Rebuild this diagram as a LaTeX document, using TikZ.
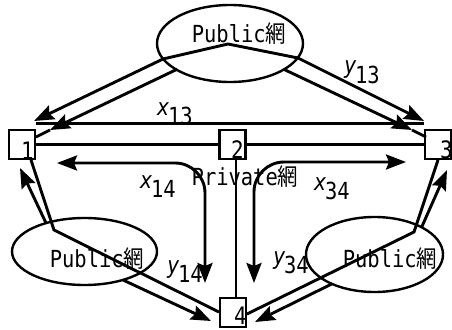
\documentclass[tikz,border=0pt]{standalone}
\usepackage{fontspec}
\setmainfont{DejaVu Sans Mono}[FakeStretch=0.87]
\newfontfamily\cjk{Noto Sans CJK JP}[FakeStretch=0.87]
\usetikzlibrary{arrows.meta,shapes.geometric}
\newcommand\mou{{\cjk 網}}
\newcommand\sublab[2]{{\itshape #1}\kern-1.5pt\raisebox{-9.5pt}{#2}}
\begin{document}
\begin{tikzpicture}[x=1pt,y=-1pt,
  box/.style={draw, line width=2.5pt, minimum width=26pt, minimum height=29pt, inner sep=0pt},
  num/.style={inner sep=0pt, font=\fontsize{24}{26}\selectfont},
  txt/.style={inner sep=0pt, font=\fontsize{23.5}{26}\selectfont},
  net/.style={draw, ellipse, line width=2.4pt, inner sep=0pt},
  pipe/.style={line width=2.6pt},
  flow/.style={line width=2.9pt},
  tipend/.style={-{Stealth[length=20pt,width=15pt,inset=3pt]}},
  twoends/.style={{Stealth[length=20pt,width=15pt,inset=3pt]}-{Stealth[length=20pt,width=15pt,inset=3pt]}}
]
\useasboundingbox (0,0) rectangle (452,329);

% boxes
\node[box] (n1) at (22,144.5) {};
\node[box] (n2) at (232.5,144.5) {};
\node[box] (n3) at (438,144.5) {};
\node[box] (n4) at (233,312.5) {};
\node[num, anchor=base east] (l1) at (34,159) {1};
\node[num, anchor=base east] (l2) at (244,158) {2};
\node[num, anchor=base east] (l3) at (453,158) {3};
\node[num, anchor=base east] (l4) at (247,324.5) {4};

% public networks
\node[net, minimum width=146pt, minimum height=77pt] (pubT) at (230,43.5) {};
\node[net, minimum width=145pt, minimum height=67pt] (pubL) at (84.5,251.5) {};
\node[net, minimum width=137pt, minimum height=75pt] (pubR) at (374.5,254.5) {};
\node[txt, anchor=base] (tT) at (239,43) {Public\mou};
\node[txt, anchor=base] (tL) at (97,267) {Public\mou};
\node[txt, anchor=base] (tR) at (390,267) {Public\mou};
\node[txt, anchor=base] (tP) at (245,185) {Private\mou};

% private pipe
\draw[pipe] ([yshift=5.5pt]n1.north east) -- ([yshift=5.5pt]n3.north west);
\draw[pipe] (n1.east) -- (n2.west);
\draw[pipe] (n2.east) -- (n3.west);
\draw[line width=1.9pt] ([xshift=3.5pt]n2.south) -- ([xshift=3pt]n4.north);

% curved private flows
\coordinate (x14a) at (57,163);
\coordinate (x14b) at (205,283);
\coordinate (x34a) at (406,162);
\coordinate (x34b) at (254,283);
\draw[flow, twoends, rounded corners=30pt] (x14a) -| (x14b);
\draw[flow, twoends, rounded corners=30pt] (x34a) -| (x34b);

% top public flows
\coordinate (t1) at (163,59);
\coordinate (t2) at (228,44);
\coordinate (t3) at (298,58);
\coordinate (tip1) at (34,121);
\coordinate (tip3) at (424,121);
\draw[flow, twoends] (tip1) -- (t1) -- (t2) -- (t3) -- (tip3);
\coordinate (sL) at (177,69.3);
\coordinate (mL) at (50,130);
\coordinate (cL) at (36,137);
\draw[flow, tipend] (sL) -- (mL);
\draw[flow] (mL) -- (cL);
\coordinate (sR) at (284,69.4);
\coordinate (mR) at (412,130);
\coordinate (cR) at (426,137);
\draw[flow, tipend] (sR) -- (mR);
\draw[flow] (mR) -- (cR);

% bottom-left public flows
\coordinate (a1) at (31,160);
\coordinate (a2) at (54,230);
\coordinate (a3) at (219,312);
\draw[flow] (a1) -- (a2) -- (a3);
\coordinate (b1s) at (46,223);
\coordinate (b1t) at (20,168);
\draw[flow, tipend] (b1s) -- (b1t);
\coordinate (b2s) at (123,280);
\coordinate (b2t) at (211,321);
\draw[flow, tipend] (b2s) -- (b2t);

% bottom-right public flows
\coordinate (r1) at (438,160);
\coordinate (r2) at (414,232);
\coordinate (r3) at (247,314);
\draw[flow] (r1) -- (r2) -- (r3);
\coordinate (q1s) at (421.5,227.5);
\coordinate (q1t) at (447,170);
\draw[flow, tipend] (q1s) -- (q1t);
\coordinate (q2s) at (332,283.8);
\coordinate (q2t) at (255,322);
\draw[flow, tipend] (q2s) -- (q2t);

% labels
\node[txt, anchor=base west] (lx13) at (157,115) {\sublab{x}{13}};
\node[txt, anchor=base west] (ly13) at (344,74) {\sublab{y}{13}};
\node[txt, anchor=base west] (lx14) at (140,188) {\sublab{x}{14}};
\node[txt, anchor=base west] (lx34) at (314,190) {\sublab{x}{34}};
\node[txt, anchor=base west] (ly14) at (167,273) {\sublab{y}{14}};
\node[txt, anchor=base west] (ly34) at (273,264) {\sublab{y}{34}};
\end{tikzpicture}
\end{document}
